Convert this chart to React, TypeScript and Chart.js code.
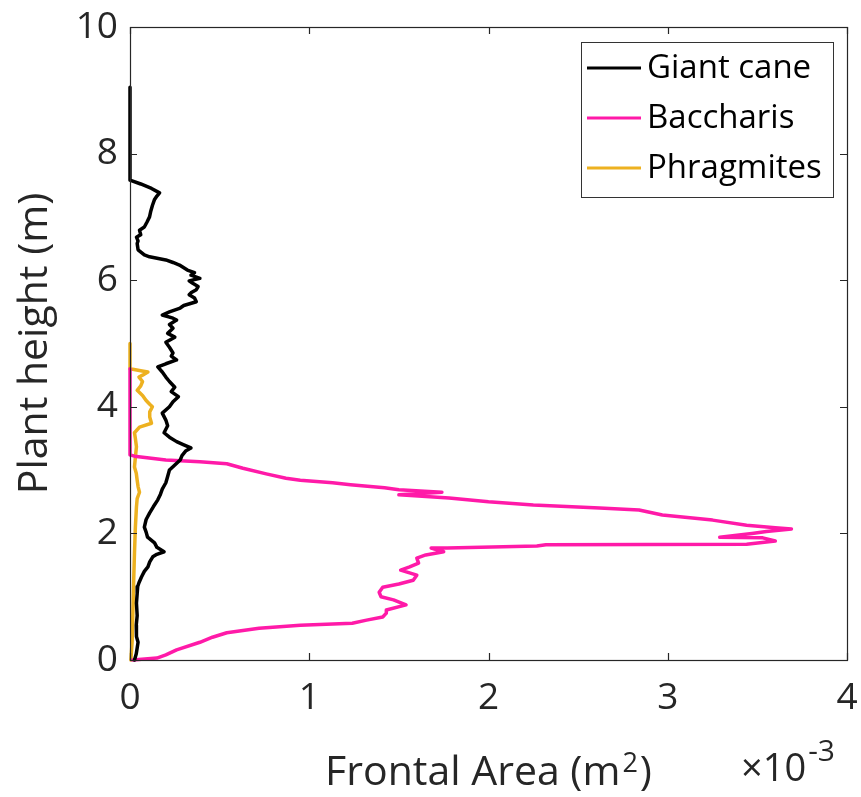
import React, { useEffect, useRef } from "react";
import { Chart, registerables } from "chart.js";

Chart.register(...registerables);

// ---- Data (frontal area in units of 1e-3 m^2, height in m) ----
const caneHeight = [
  9.05, 7.58, 7.52, 7.45, 7.38, 7.33, 7.27, 7.18, 7.08, 7.0, 6.92, 6.84, 6.79, 6.72, 6.68, 6.62, 6.58, 6.48,
  6.4, 6.37, 6.32, 6.28, 6.24, 6.16, 6.12, 6.08, 6.03, 5.99, 5.95, 5.9, 5.85, 5.8, 5.77, 5.72, 5.66, 5.6,
  5.56, 5.5, 5.45, 5.4, 5.37, 5.3, 5.24, 5.16, 5.1, 5.02, 4.94, 4.85, 4.8, 4.74, 4.68, 4.63, 4.55, 4.47,
  4.4, 4.31, 4.24, 4.16, 4.08, 4.0, 3.9, 3.79, 3.7, 3.59, 3.52, 3.45, 3.4, 3.35, 3.3, 3.23, 3.16, 3.08,
  3.0, 2.9, 2.8, 2.7, 2.62, 2.53, 2.42, 2.32, 2.22, 2.1, 2.02, 1.94, 1.85, 1.78, 1.71, 1.67, 1.63, 1.55,
  1.47, 1.4, 1.31, 1.22, 1.16, 1.05, 0.9, 0.7, 0.55, 0.37, 0.28, 0.19, 0.1, 0.0,
];
const caneArea = [
  0, 0, 0.06, 0.12, 0.165, 0.15, 0.136, 0.125, 0.115, 0.109, 0.095, 0.08, 0.053, 0.06, 0.036, 0.045, 0.04, 0.045,
  0.08, 0.109, 0.2, 0.24, 0.276, 0.32, 0.36, 0.34, 0.39, 0.33, 0.35, 0.38, 0.37, 0.34, 0.33, 0.36, 0.37, 0.3,
  0.28, 0.22, 0.18, 0.24, 0.26, 0.22, 0.24, 0.21, 0.25, 0.2, 0.22, 0.24, 0.23, 0.26, 0.2, 0.155, 0.18, 0.2,
  0.22, 0.25, 0.23, 0.27, 0.24, 0.22, 0.18, 0.2, 0.21, 0.19, 0.22, 0.26, 0.3, 0.34, 0.31, 0.29, 0.28, 0.25,
  0.22, 0.21, 0.2, 0.18, 0.17, 0.155, 0.13, 0.109, 0.09, 0.08, 0.09, 0.098, 0.137, 0.15, 0.19, 0.15, 0.127, 0.11,
  0.1, 0.08, 0.064, 0.05, 0.043, 0.04, 0.036, 0.04, 0.035, 0.036, 0.045, 0.04, 0.035, 0.025,
];

const baccharisHeight = [
  4.6, 3.24, 3.22, 3.16, 3.13, 3.1, 3.03, 2.94, 2.87, 2.84, 2.8, 2.77, 2.72, 2.69, 2.65, 2.63, 2.61, 2.56,
  2.5, 2.45, 2.4, 2.37, 2.29, 2.21, 2.13, 2.09, 2.07, 2.03, 2.0, 1.94, 1.93, 1.88, 1.83, 1.82, 1.8, 1.77,
  1.77, 1.71, 1.66, 1.61, 1.53, 1.47, 1.42, 1.34, 1.26, 1.2, 1.15, 1.07, 1.0, 0.95, 0.87, 0.79, 0.74, 0.68,
  0.63, 0.58, 0.55, 0.5, 0.43, 0.36, 0.28, 0.16, 0.08, 0.03, 0.0,
];
const baccharisArea = [
  0, 0, 0.025, 0.2, 0.39, 0.54, 0.63, 0.76, 0.87, 0.95, 1.13, 1.23, 1.42, 1.5, 1.74, 1.62, 1.5, 1.78,
  2.0, 2.25, 2.62, 2.84, 2.97, 3.25, 3.44, 3.6, 3.69, 3.55, 3.47, 3.29, 3.53, 3.6, 3.44, 2.32, 2.27, 1.77,
  1.68, 1.75, 1.65, 1.6, 1.61, 1.56, 1.51, 1.6, 1.58, 1.5, 1.41, 1.39, 1.4, 1.47, 1.54, 1.43, 1.43, 1.41,
  1.32, 1.24, 0.95, 0.72, 0.54, 0.46, 0.39, 0.26, 0.2, 0.15, 0.015,
];

const phragHeight = [
  5.0, 4.6, 4.57, 4.55, 4.5, 4.47, 4.4, 4.33, 4.26, 4.18, 4.1, 4.04, 4.0, 3.92, 3.84, 3.74, 3.68, 3.59,
  3.5, 3.37, 3.2, 3.05, 2.95, 2.84, 2.74, 2.65, 2.55, 2.42, 2.1, 1.69, 1.2, 0.63, 0.3, 0.0,
];
const phragArea = [
  0, 0, 0.06, 0.1, 0.07, 0.05, 0.07, 0.06, 0.04, 0.07, 0.09, 0.11, 0.125, 0.11, 0.11, 0.12, 0.053, 0.025,
  0.03, 0.036, 0.03, 0.025, 0.035, 0.04, 0.045, 0.053, 0.04, 0.036, 0.03, 0.025, 0.02, 0.015, 0.012, 0.005,
];

const seriesNames = ["Giant cane", "Baccharis", "Phragmites"];
const seriesColors = ["#000000", "#FF1AA8", "#EDB120"];
const xTicks = [0, 1, 2, 3, 4];
const yTicks = [0, 2, 4, 6, 8, 10];
const xTitle = "Frontal Area (m";
const xTitleSup = "2";
const yTitle = "Plant height (m)";
const exponentBase = "\u00D710";
const exponentPower = "-3";

const FONT = "'Open Sans', 'Noto Sans', sans-serif";
const AXIS = "#262626";

export default function App() {
  const ref = useRef<HTMLCanvasElement>(null);

  useEffect(() => {
    const toPts = (h: number[], a: number[]) => h.map((y, i) => ({ x: a[i], y }));
    const seriesData = [
      toPts(caneHeight, caneArea),
      toPts(baccharisHeight, baccharisArea),
      toPts(phragHeight, phragArea),
    ];

    const frame = {
      id: "frame",
      afterDatasetsDraw(chart: any) {
        const ctx = chart.ctx as CanvasRenderingContext2D;
        const { left, right, top, bottom } = chart.chartArea;
        const xs = chart.scales.x;
        const ys = chart.scales.y;
        ctx.save();
        ctx.strokeStyle = AXIS;
        ctx.lineWidth = 1.2;
        ctx.strokeRect(left + 0.5, top + 0.5, right - left, bottom - top);
        const tl = 7;
        ctx.beginPath();
        xTicks.forEach((v) => {
          const px = Math.round(xs.getPixelForValue(v)) + 0.5;
          ctx.moveTo(px, bottom);
          ctx.lineTo(px, bottom - tl);
          ctx.moveTo(px, top);
          ctx.lineTo(px, top + tl);
        });
        yTicks.forEach((v) => {
          const py = Math.round(ys.getPixelForValue(v)) + 0.5;
          ctx.moveTo(left, py);
          ctx.lineTo(left + tl, py);
          ctx.moveTo(right, py);
          ctx.lineTo(right - tl, py);
        });
        ctx.stroke();
        ctx.restore();
      },
      afterDraw(chart: any) {
        const ctx = chart.ctx as CanvasRenderingContext2D;
        const { left, right, top, bottom } = chart.chartArea;
        ctx.save();
        ctx.fillStyle = AXIS;

        // X title with superscript
        const mainFont = `41px ${FONT}`;
        const supFont = `27px ${FONT}`;
        ctx.font = mainFont;
        const w1 = ctx.measureText(xTitle).width;
        const w3 = ctx.measureText(")").width;
        ctx.font = supFont;
        const w2 = ctx.measureText(xTitleSup).width;
        const total = w1 + w2 + w3 + 4;
        const x0 = (left + right) / 2 - total / 2;
        ctx.textBaseline = "alphabetic";
        ctx.textAlign = "left";
        ctx.font = mainFont;
        ctx.fillText(xTitle, x0, 785);
        ctx.font = supFont;
        ctx.fillText(xTitleSup, x0 + w1 + 2, 772);
        ctx.font = mainFont;
        ctx.fillText(")", x0 + w1 + w2 + 4, 785);

        // Exponent label
        ctx.font = `38px ${FONT}`;
        ctx.fillText(exponentBase, 741, 781);
        const wb = ctx.measureText(exponentBase).width;
        ctx.font = `30px ${FONT}`;
        ctx.fillText(exponentPower, 741 + wb + 2, 761);

        // Y title
        ctx.save();
        ctx.translate(47, (top + bottom) / 2);
        ctx.rotate(-Math.PI / 2);
        ctx.font = mainFont;
        ctx.textAlign = "center";
        ctx.fillText(yTitle, 0, 0);
        ctx.restore();

        // Legend
        const bx = 581.5, by = 42.5, bw = 252, bh = 155;
        ctx.fillStyle = "#ffffff";
        ctx.fillRect(bx, by, bw, bh);
        ctx.strokeStyle = "#333333";
        ctx.lineWidth = 1;
        ctx.strokeRect(bx, by, bw, bh);
        ctx.font = `33px ${FONT}`;
        ctx.textAlign = "left";
        ctx.textBaseline = "alphabetic";
        seriesNames.forEach((name, i) => {
          const ly = 68 + i * 50;
          ctx.strokeStyle = seriesColors[i];
          ctx.lineWidth = 3;
          ctx.beginPath();
          ctx.moveTo(587, ly);
          ctx.lineTo(641, ly);
          ctx.stroke();
          ctx.fillStyle = "#000000";
          ctx.fillText(name, 647, ly + 10);
        });
        ctx.restore();
      },
    };

    const chart = new Chart(ref.current as HTMLCanvasElement, {
      type: "scatter",
      data: {
        datasets: seriesNames.map((name, i) => ({
          label: name,
          data: seriesData[i],
          showLine: true,
          borderColor: seriesColors[i],
          backgroundColor: seriesColors[i],
          borderWidth: 3.5,
          pointRadius: 0,
          tension: 0,
          clip: 6,
          borderJoinStyle: "round",
          borderCapStyle: "round",
        })) as any,
      },
      options: {
        animation: false,
        responsive: false,
        devicePixelRatio: 1,
        layout: { padding: { top: 27, right: 14, left: 0, bottom: 0 } },
        plugins: { legend: { display: false }, tooltip: { enabled: false } },
        scales: {
          x: {
            type: "linear",
            min: 0,
            max: 4,
            afterFit: (s: any) => {
              s.height = 137;
              s.paddingLeft = 0;
              s.paddingRight = 0;
              s.paddingTop = 0;
              s.paddingBottom = 0;
            },
            afterBuildTicks: (s: any) => {
              s.ticks = xTicks.map((v) => ({ value: v }));
            },
            grid: { display: false, drawTicks: false },
            border: { display: false },
            ticks: {
              font: { family: FONT, size: 37 },
              color: AXIS,
              padding: 16,
              maxRotation: 0,
              autoSkip: false,
            },
          },
          y: {
            type: "linear",
            min: 0,
            max: 10,
            afterFit: (s: any) => {
              s.width = 130;
              s.paddingLeft = 0;
              s.paddingRight = 0;
              s.paddingTop = 0;
              s.paddingBottom = 0;
            },
            afterBuildTicks: (s: any) => {
              s.ticks = yTicks.map((v) => ({ value: v }));
            },
            grid: { display: false, drawTicks: false },
            border: { display: false },
            ticks: {
              font: { family: FONT, size: 37 },
              color: AXIS,
              padding: 12,
              autoSkip: false,
            },
          },
        },
      } as any,
      plugins: [frame],
    });
    return () => chart.destroy();
  }, []);

  return (
    <div style={{ position: "absolute", left: 0, top: 0, width: 861, height: 797, background: "#ffffff" }}>
      <canvas ref={ref} width={861} height={797} style={{ display: "block" }} />
    </div>
  );
}
